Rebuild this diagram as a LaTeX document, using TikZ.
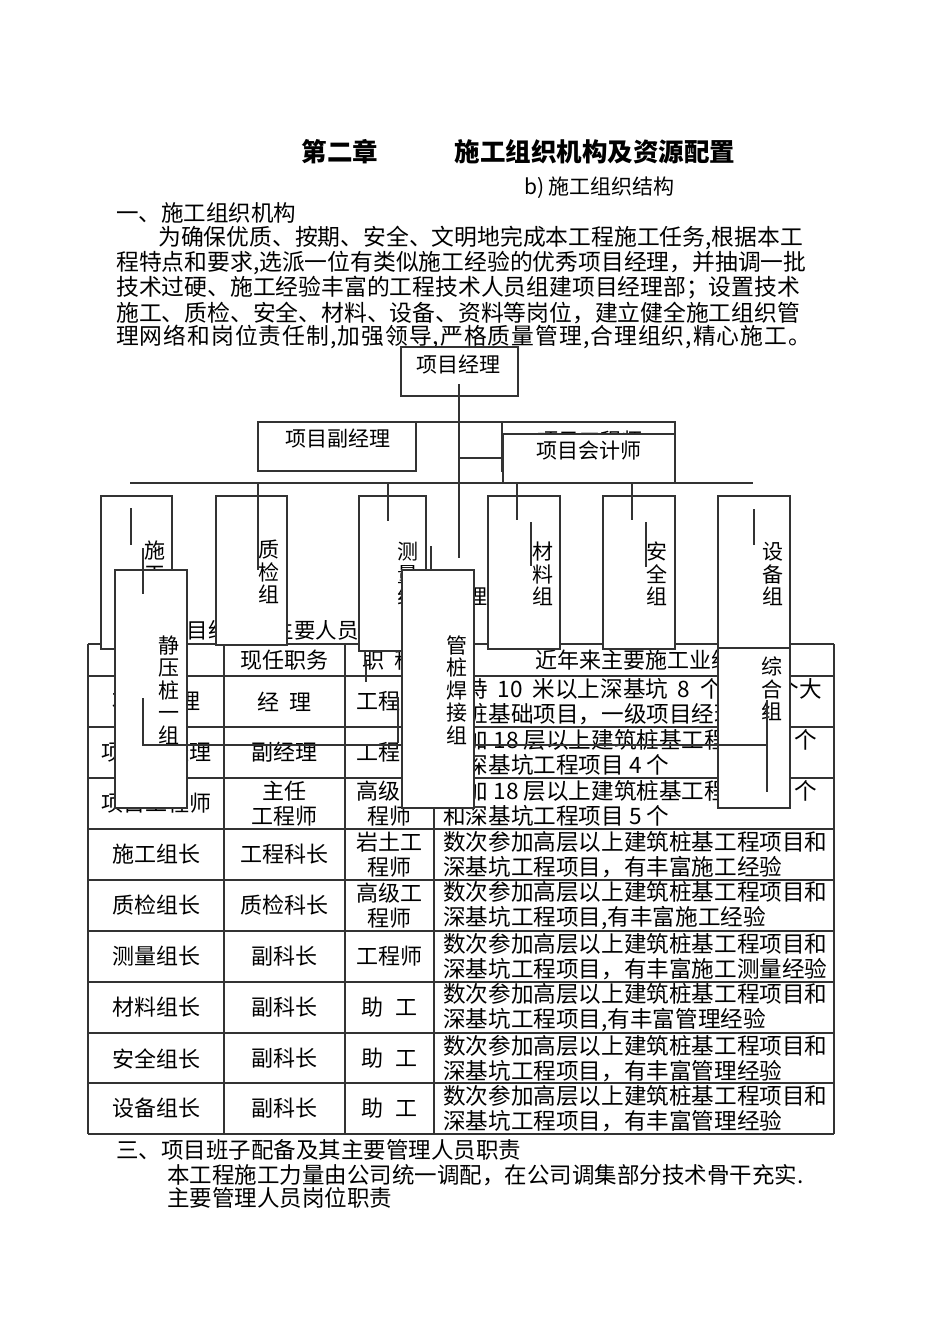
\documentclass[tikz,border=0pt]{standalone}
\usepackage{fontspec}
\setmainfont{Noto Sans CJK SC}
\newcommand{\tam}[1]{\fontsize{#1}{#1}\selectfont}

\begin{document}
\begin{tikzpicture}[x=1pt,y=-1pt,
  linha/.style={draw=black!80, line width=1.1pt},
  caixa/.style={linha, fill=white, inner sep=0pt},
  txt/.style={inner sep=0pt, anchor=west, font=\tam{22.5}},
  par/.style={inner sep=0pt, anchor=west, font=\tam{22.8}},
  rot/.style={inner sep=0pt, font=\tam{21}},
  vert/.style={inner sep=0pt, align=center, font=\fontsize{21}{22.5}\selectfont},
  cel/.style={inner sep=0pt, align=center, font=\fontsize{22}{25}\selectfont},
  desc/.style={inner sep=0pt, anchor=west, align=left, font=\fontsize{22.6}{25}\selectfont}]
\useasboundingbox (0,0) rectangle (950,1344);

% Titulo e texto
\node[inner sep=0pt, font=\tam{25.5}\bfseries] (cap) at (340,152) {第二章};
\node[inner sep=0pt, font=\tam{25.5}\bfseries] (tit) at (595,152) {施工组织机构及资源配置};
\node[rot, anchor=west] (sub) at (524,188) {b)\ 施工组织结构};
\node[txt] (sec1) at (116,213) {一、施工组织机构};
\node[par] (p1) at (158,238) {为确保优质、按期、安全、文明地完成本工程施工任务,根据本工};
\node[par] (p2) at (116,263) {程特点和要求,选派一位有类似施工经验的优秀项目经理，并抽调一批};
\node[par] (p3) at (116,288) {技术过硬、施工经验丰富的工程技术人员组建项目经理部；设置技术};
\node[par] (p4) at (116,313) {施工、质检、安全、材料、设备、资料等岗位，建立健全施工组织管};
\node[par] (p5) at (116,337) {\addfontfeature{LetterSpace=4.4}理网络和岗位责任制,加强领导,严格质量管理,合理组织,精心施工。};

% Tabela
\foreach \y in {644,676,727,778,829,880,931,982,1033,1083,1134}
  \draw[linha] (88,\y) -- (834,\y);
\foreach \x in {88,224,345,434,834}
  \draw[linha] (\x,644) -- (\x,1134);
\node[txt, font=\tam{21.5}] (sec2) at (122,630) {二、项目经理部主要人员};
\node[cel] (h2) at (284.5,660) {现任职务};
\node[cel] (h3) at (389.5,660) {职\hspace{10pt}称};
\node[cel] (h4) at (634,660) {近年来主要施工业绩};
\node[cel] (r1a) at (156,701.5) {项目经理};
\node[cel] (r1b) at (284.5,701.5) {经\hspace{10pt}理};
\node[cel] (r1c) at (389.5,701.5) {工程师};
\node[desc] (r1d) at (443,701.5) {\makebox[379pt][s]{主持 10 米以上深基坑 8 个和 6 个大}\\型桩基础项目，一级项目经理};
\node[cel] (r2a) at (156,752.5) {项目副经理};
\node[cel] (r2b) at (284.5,752.5) {副经理};
\node[cel] (r2c) at (389.5,752.5) {工程师};
\node[desc] (r2d) at (443,752.5) {参加 18 层以上建筑桩基工程项目 5 个\\和深基坑工程项目 4 个};
\node[cel] (r3a) at (156,803.5) {项目工程师};
\node[cel] (r3b) at (284.5,803.5) {主任\\工程师};
\node[cel] (r3c) at (389.5,803.5) {高级工\\程师};
\node[desc] (r3d) at (443,803.5) {参加 18 层以上建筑桩基工程项目 8 个\\和深基坑工程项目 5 个};
\foreach \i/\yy/\a/\b/\c/\d in {
  4/854.5/施工组长/工程科长/{岩土工\\程师}/{深基坑工程项目，有丰富施工经验},
  5/905.5/质检组长/质检科长/{高级工\\程师}/{深基坑工程项目,有丰富施工经验},
  6/956.5/测量组长/副科长/工程师/{深基坑工程项目，有丰富施工测量经验},
  7/1007.5/材料组长/副科长/{助\hspace{12pt}工}/{深基坑工程项目,有丰富管理经验},
  8/1058.5/安全组长/副科长/{助\hspace{12pt}工}/{深基坑工程项目，有丰富管理经验},
  9/1108.5/设备组长/副科长/{助\hspace{12pt}工}/{深基坑工程项目，有丰富管理经验}} {
  \node[cel] (r\i a) at (156,\yy) {\a};
  \node[cel] (r\i b) at (284.5,\yy) {\b};
  \node[cel] (r\i c) at (389.5,\yy) {\c};
  \node[desc] (r\i d) at (443,\yy) {数次参加高层以上建筑桩基工程项目和\\\d};
}
\node[txt] (sec3) at (116,1150) {三、项目班子配备及其主要管理人员职责};
\node[txt] (q1) at (167,1175) {本工程施工力量由公司统一调配，在公司调集部分技术骨干充实.};
\node[txt] (q2) at (167,1198) {主要管理人员岗位职责};
\node[rot] (resto) at (477,597) {理};

% Organograma
\node[caixa, minimum width=173pt, minimum height=49pt] (bpe) at (588.5,446.5) {};
\node[rot] (tpe) at (590,441) {项目工程师};
\node[caixa, minimum width=172pt, minimum height=49pt] (bkj) at (589,458.5) {};
\node[rot] (tkj) at (589,451) {项目会计师};
\node[caixa, minimum width=117pt, minimum height=49pt] (bjl) at (459.5,371.5) {};
\node[rot] (tjl) at (458,365) {项目经理};
\node[caixa, minimum width=158pt, minimum height=49pt] (bfj) at (337,446.5) {};
\node[rot] (tfj) at (338,439) {项目副经理};

\node[caixa, minimum width=71pt, minimum height=153pt] (bsg) at (136.5,572.5) {};
\node[vert] (tsg) at (155,573) {施\\工\\组};
\node[caixa, minimum width=71pt, minimum height=149pt] (bzj) at (251.5,570.5) {};
\node[vert] (tzj) at (269,572) {质\\检\\组};
\node[caixa, minimum width=67pt, minimum height=155pt] (bcl) at (392.5,573.5) {};
\node[vert] (tcl) at (408,574) {测\\量\\组};
\node[caixa, minimum width=72pt, minimum height=153pt] (bcc) at (524,572.5) {};
\node[vert] (tcc) at (543,574) {材\\料\\组};
\node[caixa, minimum width=72pt, minimum height=153pt] (baq) at (639,572.5) {};
\node[vert] (taq) at (657,574) {安\\全\\组};
\node[caixa, minimum width=72pt, minimum height=152pt] (bsb) at (754,572) {};
\node[vert] (tsb) at (773,574) {设\\备\\组};
\node[caixa, minimum width=72pt, minimum height=238pt] (bjy) at (151,689) {};
\node[vert] (tjy) at (169,690) {静\\压\\桩\\一\\组};
\node[caixa, minimum width=72pt, minimum height=160pt] (bzh) at (754,728) {};
\node[vert] (tzh) at (772,689) {综\\合\\组};

% Linhas
\draw[linha] (130,483) -- (753,483);
\draw[linha] (459,384) -- (459,558);
\draw[linha] (459,458) -- (503,458);
\draw[linha] (416,422) -- (502,422);
\draw[linha] (131,508) -- (131,545);
\draw[linha] (143,548) -- (143,594);
\draw[linha] (258,483) -- (258,570);
\draw[linha] (388,483) -- (388,521);
\draw[linha] (431,546) -- (431,570);
\draw[linha] (517,483) -- (517,520);
\draw[linha] (531,522) -- (531,566);
\draw[linha] (632,483) -- (632,520);
\draw[linha] (646,522) -- (646,567);
\draw[linha] (754,509) -- (754,545);
\draw[linha] (366,661) -- (366,682);
\draw[linha] (398,697) -- (398,743);
\draw[linha] (143,698) -- (143,745) -- (767,745);
\draw[linha] (767,700) -- (767,792);

\node[caixa, minimum width=72pt, minimum height=238pt] (bgz) at (438,689) {};
\node[vert] (tgz) at (457,690) {管\\桩\\焊\\接\\组};
\end{tikzpicture}
\end{document}
